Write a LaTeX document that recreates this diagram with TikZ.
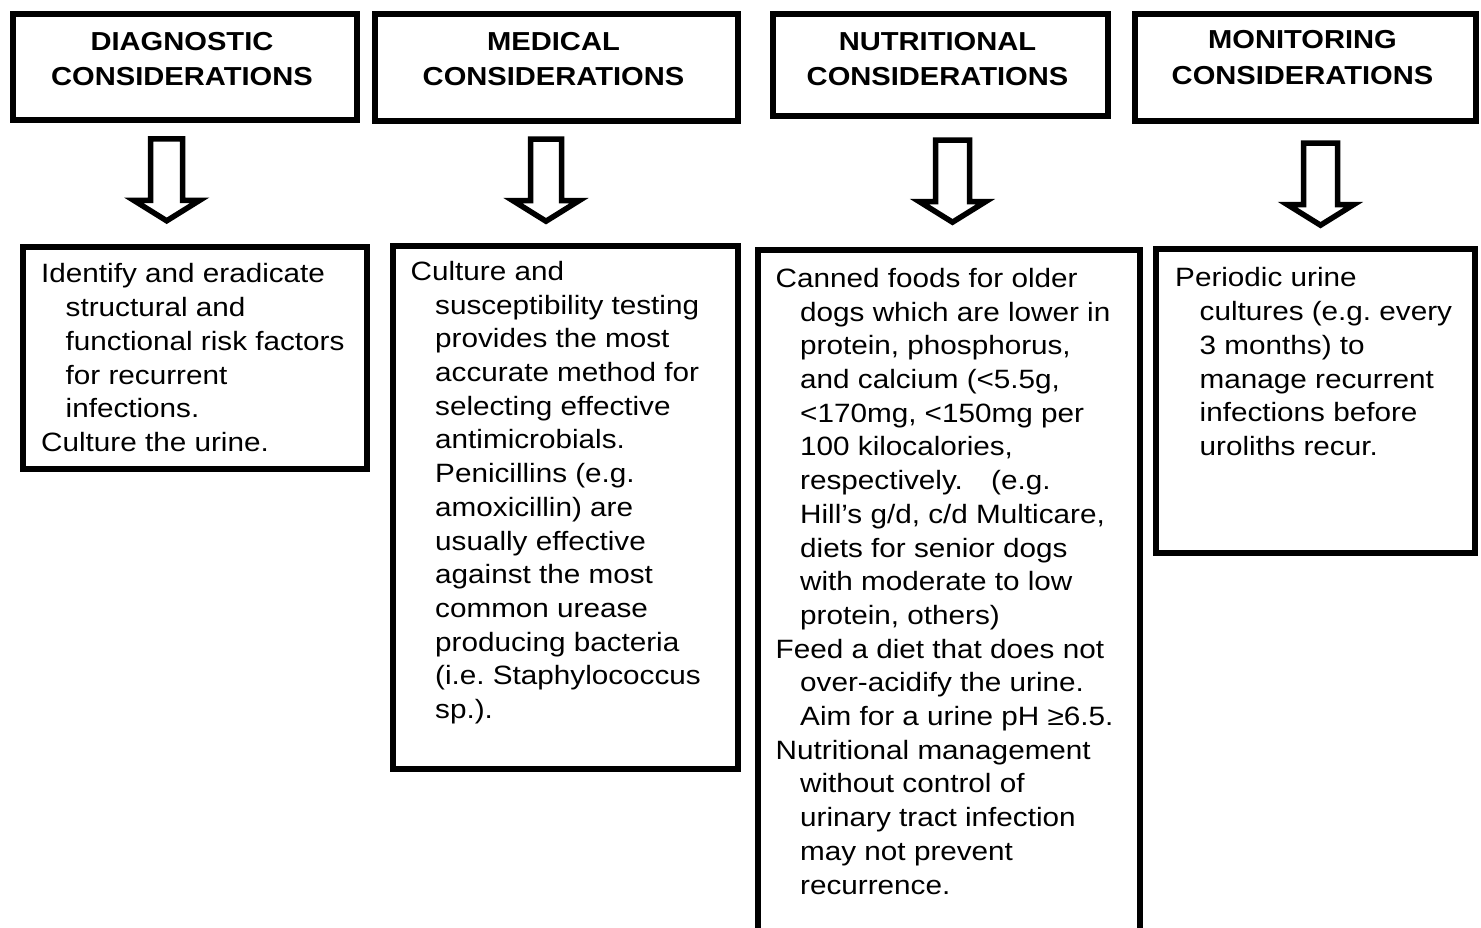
\documentclass[tikz,border=0pt]{standalone}
\usepackage{fontspec}
\setmainfont{Liberation Sans}[FakeStretch=1.12]
\newcommand\hangpar{\par\hangindent=24.5pt\hangafter=1\relax}
\tikzset{
  box/.style={draw=black, line width=6pt, fill=white, inner sep=0pt, anchor=north west},
  blockarr/.style={draw=black, line width=5.5pt, fill=white, line join=miter},
  hdr/.style={inner sep=0pt, anchor=base, font=\fontsize{26}{35.3}\selectfont\bfseries},
  bodytext/.style={inner sep=0pt, anchor=base west, font=\fontsize{26.5}{33.7}\selectfont\frenchspacing},
}
\newcommand\blockarrow[3]{%
  \coordinate (#1) at (#2);
  \draw[blockarr, shift={(#1)}] (-#3,0) -- (#3,0) -- (#3,61.5) -- (33,61.5) -- (0,82)
    -- (-33,61.5) -- (-#3,61.5) -- cycle;}
\begin{document}
\begin{tikzpicture}[x=1pt,y=-1pt]
\useasboundingbox (0,0) rectangle (1481,928);
\clip (0,0) rectangle (1481,928);
\fill[white] (0,0) rectangle (1481,928);

% header boxes
\node[box, minimum width=344pt, minimum height=106pt] (h1) at (10,11) {};
\node[box, minimum width=363pt, minimum height=107pt] (h2) at (372,11) {};
\node[box, minimum width=335pt, minimum height=102pt] (h3) at (770,11) {};
\node[box, minimum width=341pt, minimum height=107pt] (h4) at (1132,11) {};

\node[hdr] (h1t) at (182,50.5) {\vtop{\hsize=330pt\centering DIAGNOSTIC\\CONSIDERATIONS}};
\node[hdr] (h2t) at (553.5,50.5) {\vtop{\hsize=340pt\centering MEDICAL\\CONSIDERATIONS}};
\node[hdr] (h3t) at (937.5,50.5) {\vtop{\hsize=320pt\centering NUTRITIONAL\\CONSIDERATIONS}};
\node[hdr] (h4t) at (1302.5,49) {\vtop{\hsize=325pt\centering MONITORING\\CONSIDERATIONS}};

% block arrows
\blockarrow{a1}{166.7,138.8}{16}
\blockarrow{a2}{546,139.2}{15.5}
\blockarrow{a3}{952.5,140.2}{17}
\blockarrow{a4}{1320.5,143.2}{17}

% body boxes
\node[box, minimum width=344pt, minimum height=222pt] (b1) at (20,244) {};
\node[box, minimum width=345pt, minimum height=523pt] (b2) at (390,243) {};
\node[box, minimum width=382pt, minimum height=720pt] (b3) at (755,247) {};
\node[box, minimum width=319pt, minimum height=304pt] (b4) at (1153,246) {};

\node[bodytext] (t1) at (41,283) {\vtop{\hsize=318pt\parindent=0pt
\hangpar Identify and eradicate\newline structural and\newline functional risk factors\newline for recurrent\newline infections.
\hangpar Culture the urine.}};

\node[bodytext] (t2) at (410.5,280.5) {\vtop{\hsize=320pt\parindent=0pt
\hangpar Culture and\newline susceptibility testing\newline provides the most\newline accurate method for\newline selecting effective\newline antimicrobials.\newline Penicillins (e.g.\newline amoxicillin) are\newline usually effective\newline against the most\newline common urease\newline producing bacteria\newline (i.e. Staphylococcus\newline sp.).}};

\node[bodytext] (t3) at (775.5,287.5) {\vtop{\hsize=356pt\parindent=0pt
\hangpar Canned foods for older\newline dogs which are lower in\newline protein, phosphorus,\newline and calcium (<5.5g,\newline <170mg, <150mg per\newline 100 kilocalories,\newline respectively.\hspace{20pt} (e.g.\newline Hill’s g/d, c/d Multicare,\newline diets for senior dogs\newline with moderate to low\newline protein, others)
\hangpar Feed a diet that does not\newline over-acidify the urine.\newline Aim for a urine pH ≥6.5.
\hangpar Nutritional management\newline without control of\newline urinary tract infection\newline may not prevent\newline recurrence.}};

\node[bodytext] (t4) at (1175,287) {\vtop{\hsize=292pt\parindent=0pt
\hangpar Periodic urine\newline cultures (e.g. every\newline 3 months) to\newline manage recurrent\newline infections before\newline uroliths recur.}};
\end{tikzpicture}
\end{document}
